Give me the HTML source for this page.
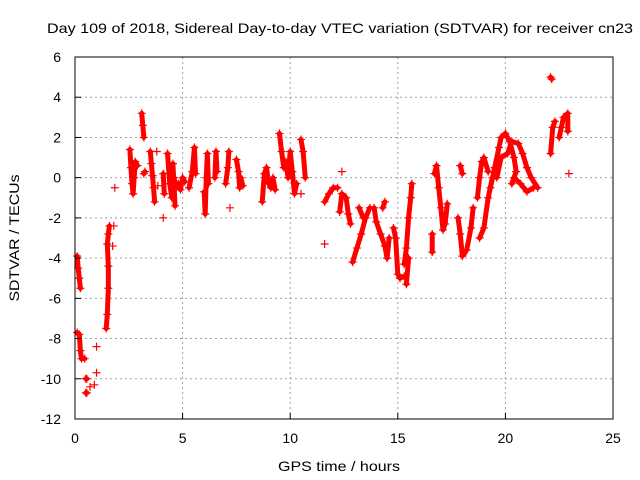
<!DOCTYPE html>
<html><head><meta charset="utf-8"><style>
body{margin:0;background:#fff}
svg{display:block;font-family:"Liberation Sans",sans-serif}
</style></head><body>
<svg id="c" width="640" height="480">
<text x="340" y="33" text-anchor="middle" font-size="14" textLength="586" lengthAdjust="spacingAndGlyphs">Day 109 of 2018, Sidereal Day-to-day VTEC variation (SDTVAR) for receiver cn23</text>
<text x="339" y="471" text-anchor="middle" font-size="14" textLength="122" lengthAdjust="spacingAndGlyphs">GPS time / hours</text>
<text transform="translate(19,238) rotate(-90)" text-anchor="middle" font-size="14" textLength="127" lengthAdjust="spacingAndGlyphs">SDTVAR / TECUs</text>
<g id="grid"></g><g id="marks"></g><g id="axes"></g>
</svg>
<script>
const xTicks=[0,5,10,15,20,25];
const yTicks=[6,4,2,0,-2,-4,-6,-8,-10,-12];
const tracks=[
[[0.1,-3.9],[0.15,-4.5],[0.2,-5.0],[0.25,-5.5]],
[[0.1,-7.7],[0.2,-7.8],[0.25,-8.6],[0.3,-9.0],[0.45,-9.0]],
[[0.5,-10],[0.55,-10]],[[0.5,-10.7],[0.55,-10.7]],
[[0.7,-10.4]],[[0.9,-10.3]],[[1.0,-9.7]],[[1.0,-8.4]],
[[1.45,-7.5],[1.5,-6.8],[1.55,-5.5],[1.55,-4.4],[1.5,-3.3],[1.55,-2.8],[1.6,-2.4]],
[[1.75,-3.4]],[[1.8,-2.4]],[[1.85,-0.5]],
[[2.55,1.4],[2.6,0.5],[2.65,-0.3],[2.7,-0.8],[2.75,0.0],[2.8,0.8],[2.9,0.6]],
[[3.1,3.2],[3.15,2.6],[3.2,2.0]],[[3.2,0.2],[3.25,0.3]],
[[3.5,1.3],[3.55,0.7],[3.6,0.1],[3.65,-0.5],[3.7,-1.2]],[[3.8,1.3]],[[3.85,-0.4]],
[[4.1,0.2],[4.15,-0.8]],[[4.1,-2.0]],
[[4.3,1.2],[4.4,-0.3],[4.5,-1.0],[4.6,0.0],[4.7,-0.5],[4.8,-0.3],[4.9,-0.6],[5.0,0.0],[5.1,-0.2]],
[[4.55,0.7],[4.65,-1.4]],
[[5.3,-0.5],[5.45,0.3],[5.55,1.5],[5.6,0.2]],
[[6.0,-0.7],[6.05,-1.8],[6.1,0.0],[6.15,1.2],[6.2,-0.3]],
[[6.5,0.0],[6.55,1.3],[6.6,0.3]],
[[7.0,-0.3],[7.1,0.5],[7.15,1.3]],[[7.2,-1.5]],
[[7.5,0.9],[7.6,0.3],[7.65,-0.5],[7.7,0.0],[7.8,-0.4]],
[[8.7,-1.2],[8.8,0.2],[8.9,0.5],[9.0,-0.3],[9.1,-0.5],[9.2,0.0],[9.3,-0.6]],
[[9.5,2.2],[9.6,1.3],[9.7,0.5],[9.8,0.8],[9.9,0.0],[10.0,1.3],[10.1,0.3],[10.2,-0.8],[10.3,-0.3]],
[[10.5,1.9],[10.6,1.3],[10.7,0.0]],[[10.5,-0.8]],
[[11.6,-1.2],[11.8,-0.8],[12.0,-0.5],[12.2,-0.5]],[[11.6,-3.3]],[[12.4,0.3]],
[[12.3,-1.7],[12.4,-0.8],[12.6,-1.0],[12.7,-1.8],[12.8,-2.3]],
[[12.9,-4.2],[13.1,-3.5],[13.3,-2.8],[13.5,-2.0],[13.7,-1.5]],[[13.2,-1.5],[13.4,-2.0]],
[[13.9,-1.5],[14.0,-2.2],[14.2,-2.8],[14.4,-3.4],[14.5,-4.0],[14.6,-3.0]],[[14.3,-1.5],[14.4,-1.2]],
[[14.8,-2.5],[14.9,-3.0],[15.0,-4.8],[15.1,-5.0],[15.3,-4.9]],
[[15.3,-4.3],[15.4,-3.5],[15.5,-2.0],[15.6,-1.0],[15.65,-0.3]],[[15.4,-5.3],[15.5,-4.0]],
[[16.6,-3.7],[16.6,-2.8]],
[[16.7,0.2],[16.8,0.6],[16.9,-0.5],[17.0,-1.5],[17.1,-2.6],[17.2,-2.3],[17.3,-1.3]],
[[17.9,0.6],[18.0,0.2]],
[[17.8,-2.0],[17.9,-2.8],[18.0,-3.9],[18.2,-3.6],[18.4,-2.5],[18.5,-1.5]],
[[18.7,-1.0],[18.8,0.0],[18.9,0.8],[19.0,1.0],[19.2,0.3]],
[[18.8,-3.0],[19.0,-2.5],[19.2,-1.0],[19.4,0.0]],
[[19.3,-0.5],[19.5,0.5],[19.7,1.5],[19.8,2.0],[20.0,2.2],[20.2,1.8],[20.4,1.0],[20.5,0.3],[20.3,-0.3]],
[[19.6,0.0],[19.8,1.0],[20.1,1.2],[20.3,1.8],[20.6,1.7],[20.8,1.2],[21.0,0.5],[21.2,0.0],[21.5,-0.5]],
[[20.4,0.0],[20.7,-0.3],[21.0,-0.7],[21.3,-0.5]],
[[22.1,1.2],[22.2,2.5],[22.3,2.8]],[[22.1,5.0],[22.15,4.9]],
[[22.5,2.0],[22.6,2.5],[22.7,3.0],[22.9,3.2],[22.9,2.3]],[[22.95,0.2]]
];
const L=75,R=613,T=57,B=419;
const X=t=>L+t/25*(R-L);
const Y=v=>T+(6-v)/18*(B-T);
const NS="http://www.w3.org/2000/svg";
function mk(tag,attrs,parent){const e=document.createElementNS(NS,tag);for(const k in attrs)e.setAttribute(k,attrs[k]);parent.appendChild(e);return e;}
const grid=document.getElementById('grid'),marks=document.getElementById('marks'),axes=document.getElementById('axes');
xTicks.forEach(t=>{
 if(t>0&&t<25){const g=mk('line',{x1:X(t),x2:X(t),y1:T,y2:B,stroke:'#a0a0a0','stroke-dasharray':'2,3'},grid);
 
 }
 const tk=mk('line',{x1:X(t),x2:X(t),y1:B,y2:B-6,stroke:'#000'},axes);
 
 
 const lb=mk('text',{x:X(t),y:B+24,'text-anchor':'middle','font-size':14},axes);lb.textContent=t;
 
 
});
yTicks.forEach(v=>{
 if(v<6&&v>-12){const g=mk('line',{x1:L,x2:R,y1:Y(v),y2:Y(v),stroke:'#a0a0a0','stroke-dasharray':'2,3'},grid);
 
 }
 const tk=mk('line',{x1:L,x2:L+6,y1:Y(v),y2:Y(v),stroke:'#000'},axes);
 
 
 const lb=mk('text',{x:L-14,y:Y(v)+5,'text-anchor':'end','font-size':14},axes);lb.textContent=v;
 
 
});
const fr=mk('rect',{x:L,y:T,width:R-L,height:B-T,fill:'none',stroke:'#000'},axes);


tracks.forEach(tr=>{
 if(tr.length>1){const pl=mk('polyline',{points:tr.map(p=>X(p[0])+','+Y(p[1])).join(' '),fill:'none',stroke:'#f00','stroke-width':5,'stroke-linejoin':'round','stroke-linecap':'round'},marks);
 
 }
 tr.forEach(p=>{const x=X(p[0]),y=Y(p[1]);
  const m=mk('path',{d:`M${x-4},${y}H${x+4}M${x},${y-4}V${y+4}`,stroke:'#f00','stroke-width':1.2},marks);
  
  });
});
</script>
</body></html>
